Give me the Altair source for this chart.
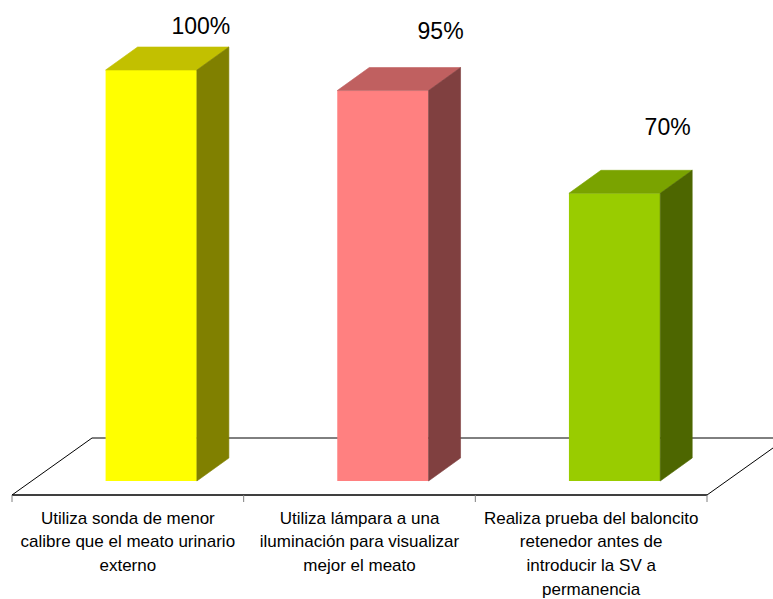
import altair as alt
import pandas as pd

# ---------------- data ----------------
categories = [
    "Utiliza sonda de menor\ncalibre que el meato urinario\nexterno",
    "Utiliza lámpara a una\niluminación para visualizar\nmejor el meato",
    "Realiza prueba del baloncito\nretenedor antes de\nintroducir la SV a\npermanencia",
]
values = [100, 95, 70]
value_labels = ["100%", "95%", "70%"]

# ---------------- styles ----------------
front_colors = ["#FFFF00", "#FF8080", "#99CC00"]
top_colors = ["#C2C000", "#C06060", "#7AA300"]
side_colors = ["#808000", "#804040", "#4D6600"]
label_nudge_px = [12, -3, -10]      # irregular vertical placement of value labels
label_x = [0.815, 0.85, 0.83]       # horizontal placement within each slot

W, H = 773, 599
PX_PER_SLOT = 231.67
PX_PER_UNIT = 4.11
X0_PX = 12          # left edge of first category slot
BASE_PX = 481       # baseline (value 0) of the bars
X_DOMAIN = [-X0_PX / PX_PER_SLOT, (W - X0_PX) / PX_PER_SLOT]
Y_DOMAIN = [-(H - BASE_PX) / PX_PER_UNIT, BASE_PX / PX_PER_UNIT]

BAR_LEFT = 0.404
BAR_W = 0.394
DX = 32 / PX_PER_SLOT
DY = 23 / PX_PER_UNIT
FLOOR_FRONT = -14 / PX_PER_UNIT
FLOOR_BACK = 43 / PX_PER_UNIT
FLOOR_DX = 80 / PX_PER_SLOT
TICK_BOTTOM = -21 / PX_PER_UNIT
CAT_BASE = -42.5 / PX_PER_UNIT
LABEL_OFF = 48.5 / PX_PER_UNIT

n = len(values)

xs = alt.Scale(domain=X_DOMAIN, nice=False, zero=False)
ys = alt.Scale(domain=Y_DOMAIN, nice=False, zero=False)

# floor
floor_df = pd.DataFrame({
    "x": [0, FLOOR_DX, n, n + FLOOR_DX],
    "y": [FLOOR_FRONT, FLOOR_BACK, FLOOR_BACK, FLOOR_BACK],
    "y2": [FLOOR_FRONT, FLOOR_FRONT, FLOOR_FRONT, FLOOR_BACK],
})
floor = alt.Chart(floor_df).mark_area(fill="white", stroke="black", strokeWidth=1).encode(
    x=alt.X("x:Q", scale=xs, axis=None),
    y=alt.Y("y:Q", scale=ys, axis=None),
    y2="y2:Q",
)

tick_df = pd.DataFrame({
    "x": list(range(n + 1)),
    "y": [FLOOR_FRONT] * (n + 1),
    "y2": [TICK_BOTTOM] * (n + 1),
})
ticks = alt.Chart(tick_df).mark_rule(color="#7f7f7f", strokeWidth=1).encode(
    x=alt.X("x:Q", scale=xs, axis=None),
    y=alt.Y("y:Q", scale=ys, axis=None),
    y2="y2:Q",
)

line_df = pd.DataFrame({"a": [0], "b": [n], "y": [FLOOR_FRONT]})
front_line = alt.Chart(line_df).mark_rule(color="black", strokeWidth=1).encode(
    x=alt.X("a:Q", scale=xs, axis=None),
    x2="b:Q",
    y=alt.Y("y:Q", scale=ys, axis=None),
)

# bar faces
front_rows, poly_rows = [], []
for i, v in enumerate(values):
    x0 = i + BAR_LEFT
    x1 = x0 + BAR_W
    front_rows.append({"x": x0, "x2": x1, "y": v, "y2": 0, "color": front_colors[i]})
    pid = f"top{i}"
    for x, y, y2 in [(x0, v, v), (x0 + DX, v + DY, v), (x1, v + DY, v), (x1 + DX, v + DY, v + DY)]:
        poly_rows.append({"poly": pid, "x": x, "y": y, "y2": y2, "color": top_colors[i]})
    pid = f"side{i}"
    for x, y, y2 in [(x1, v, 0), (x1 + DX, v + DY, DY)]:
        poly_rows.append({"poly": pid, "x": x, "y": y, "y2": y2, "color": side_colors[i]})

front = alt.Chart(pd.DataFrame(front_rows)).mark_rect().encode(
    x=alt.X("x:Q", scale=xs, axis=None),
    x2="x2:Q",
    y=alt.Y("y:Q", scale=ys, axis=None),
    y2="y2:Q",
    color=alt.Color("color:N", scale=None),
)

faces = alt.Chart(pd.DataFrame(poly_rows)).mark_area(strokeWidth=0.6).encode(
    x=alt.X("x:Q", scale=xs, axis=None),
    y=alt.Y("y:Q", scale=ys, axis=None),
    y2="y2:Q",
    color=alt.Color("color:N", scale=None),
    stroke=alt.Stroke("color:N", scale=None),
    detail="poly:N",
)

# value labels
lab_df = pd.DataFrame({
    "x": [i + label_x[i] for i in range(n)],
    "y": [v + LABEL_OFF - label_nudge_px[i] / PX_PER_UNIT for i, v in enumerate(values)],
    "t": value_labels,
})
vlabels = alt.Chart(lab_df).mark_text(
    font="Liberation Sans", fontSize=23, color="black", align="center", baseline="alphabetic"
).encode(
    x=alt.X("x:Q", scale=xs, axis=None),
    y=alt.Y("y:Q", scale=ys, axis=None),
    text="t:N",
)

# category labels
cat_df = pd.DataFrame({"x": [i + 0.5 for i in range(n)], "y": [CAT_BASE] * n, "t": categories})
clabels = alt.Chart(cat_df).mark_text(
    font="Liberation Sans", fontSize=17, color="black", align="center", baseline="alphabetic",
    lineBreak="\n", lineHeight=23.8,
).encode(
    x=alt.X("x:Q", scale=xs, axis=None),
    y=alt.Y("y:Q", scale=ys, axis=None),
    text="t:N",
)

chart = alt.layer(floor, front_line, ticks, front, faces, vlabels, clabels).properties(
    width=W, height=H, autosize="none", padding=0, background="white"
).configure_view(strokeWidth=0)

chart.save("out.html", embed_options={"renderer": "svg", "actions": False})
